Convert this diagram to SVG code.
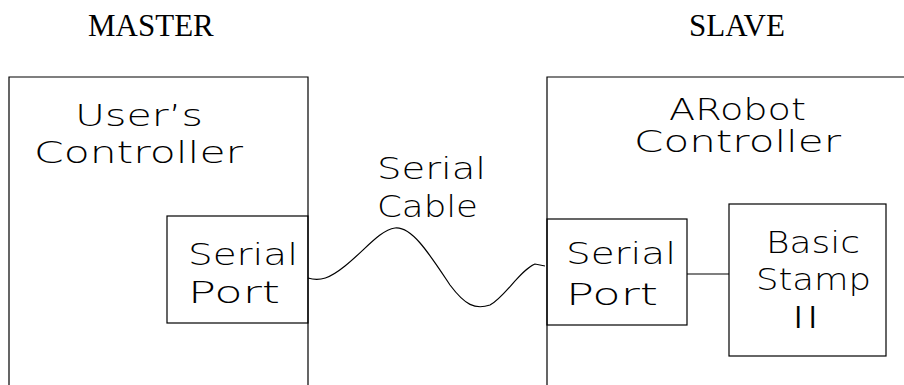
<svg xmlns="http://www.w3.org/2000/svg" width="904" height="385" viewBox="0 0 904 385">
<style>
.box{fill:none;stroke:#000;stroke-width:1.2}
.cad{font-family:"DejaVu Sans","Liberation Sans",sans-serif;font-weight:200;font-size:30px;fill:#000}
.title{font-family:"Liberation Serif","Times New Roman",serif;font-size:31px;fill:#000}
.wire{fill:none;stroke:#000;stroke-width:1.2}
</style>
<rect width="904" height="385" fill="#fff"/>
<text class="title" x="88" y="36">MASTER</text>
<text class="title" x="689" y="36">SLAVE</text>
<g id="master">
<path class="box" d="M9,385 V77 H308 V385"/>
<text class="cad" x="75" y="126" textLength="128" lengthAdjust="spacingAndGlyphs">User’s</text>
<text class="cad" x="34" y="163" textLength="209" lengthAdjust="spacingAndGlyphs">Controller</text>
</g>
<g id="master-port">
<rect class="box" x="167" y="216" width="141" height="107"/>
<text class="cad" x="188" y="265" textLength="110" lengthAdjust="spacingAndGlyphs">Serial</text>
<text class="cad" x="188" y="303" textLength="92" lengthAdjust="spacingAndGlyphs">Port</text>
</g>
<g id="slave">
<path class="box" d="M547,385 V77 H904"/>
<text class="cad" x="669" y="120" textLength="137" lengthAdjust="spacingAndGlyphs">ARobot</text>
<text class="cad" x="634" y="152" textLength="207" lengthAdjust="spacingAndGlyphs">Controller</text>
</g>
<g id="slave-port">
<rect class="box" x="547" y="219" width="140" height="106"/>
<text class="cad" x="566" y="264" textLength="110" lengthAdjust="spacingAndGlyphs">Serial</text>
<text class="cad" x="566" y="305" textLength="92" lengthAdjust="spacingAndGlyphs">Port</text>
</g>
<g id="basic-stamp">
<rect class="box" x="729" y="204" width="157" height="152"/>
<text class="cad" x="766" y="253" textLength="94" lengthAdjust="spacingAndGlyphs">Basic</text>
<text class="cad" x="756" y="290" textLength="115" lengthAdjust="spacingAndGlyphs">Stamp</text>
<text class="cad" x="791" y="328" textLength="29" lengthAdjust="spacingAndGlyphs">II</text>
</g>
<g id="cable-label">
<text class="cad" x="377" y="179" textLength="109" lengthAdjust="spacingAndGlyphs">Serial</text>
<text class="cad" x="377" y="217" textLength="101" lengthAdjust="spacingAndGlyphs">Cable</text>
</g>
<g id="connectors">
<path class="wire" d="M308,278 C320,282 330,278 345,266 C365,250 380,230 395,228 C412,226 430,255 450,285 C465,305 475,310 490,305 C505,297 520,270 535,264 L545,266"/>
<line class="wire" x1="687" y1="274" x2="729" y2="274"/>
</g>
</svg>
